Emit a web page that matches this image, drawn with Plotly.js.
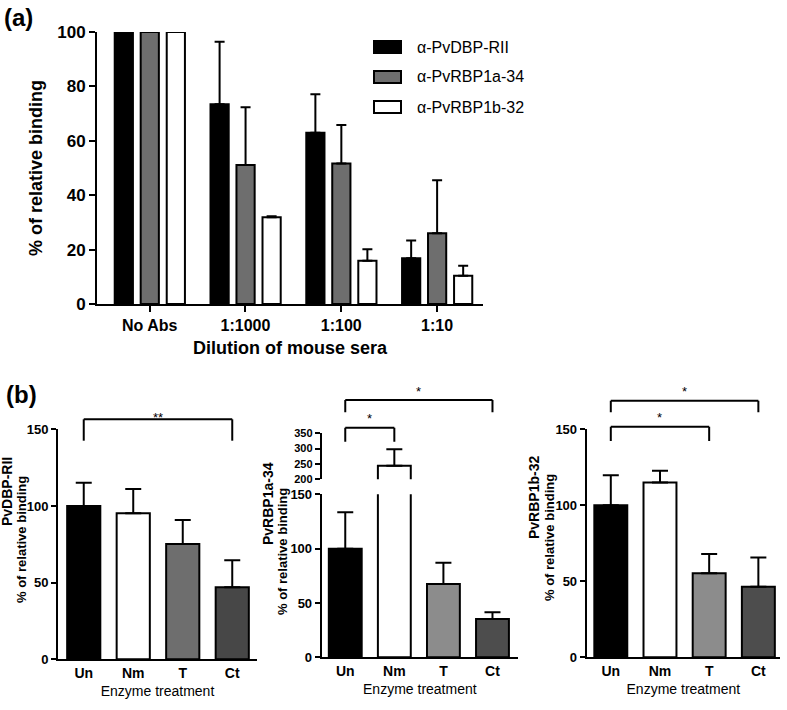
<!DOCTYPE html>
<html>
<head>
<meta charset="utf-8">
<script src="https://cdn.plot.ly/plotly-3.0.1.min.js"></script>
<style>html,body{margin:0;padding:0;background:#fff;}#chart{width:787px;height:710px;}</style>
</head>
<body>
<div id="chart"></div>
<script>
// ---------- Panel (a) data ----------
const dilutions = ['No Abs', '1:1000', '1:100', '1:10'];
const seriesNames = ['\u03b1-PvDBP-RII', '\u03b1-PvRBP1a-34', '\u03b1-PvRBP1b-32'];
const dbpValues = [100, 73.4, 63.0, 16.8];
const dbpErrors = [null, 23.0, 14.1, 6.5];
const rbp1aValues = [100, 51.1, 51.7, 26.0];
const rbp1aErrors = [null, 21.2, 14.1, 19.5];
const rbp1bValues = [100, 31.9, 15.9, 10.4];
const rbp1bErrors = [null, 0.4, 4.2, 3.7];
const yTicksA = [0, 20, 40, 60, 80, 100];

// ---------- Panel (b) data ----------
const treatments = ['Un', 'Nm', 'T', 'Ct'];
const dbpTreatValues = [100, 95.2, 75.2, 47.0];
const dbpTreatErrors = [15.2, 15.9, 15.6, 17.6];
const rbp1aTreatValues = [100, 244, 67.5, 35.2];
const rbp1aTreatErrors = [33.4, 54, 19.5, 6.2];
const rbp1bTreatValues = [100, 115, 55.3, 46.4];
const rbp1bTreatErrors = [19.7, 7.8, 12.7, 19.2];
const yTicksB = [0, 50, 100, 150];
const yTicksBUpper = [200, 250, 300, 350];
const panelBTitles = ['PvDBP-RII', 'PvRBP1a-34', 'PvRBP1b-32'];

// ---------- helpers ----------
const W = 787, H = 710;
const px = x => x / W;
const py = y => 1 - y / H;
const FA = 'Liberation Sans, Arial, sans-serif';
const FN = 'Liberation Sans Narrow, Arial Narrow, Liberation Sans, Arial, sans-serif';

const colorsA = ['#000000', '#6e6e6e', '#ffffff'];
const colorsB1 = ['#000000', '#ffffff', '#6e6e6e', '#474747'];
const colorsB23 = ['#000000', '#ffffff', '#8c8c8c', '#4d4d4d'];

function errUp(arr, width, thick) {
  return {type: 'data', symmetric: false, array: arr, arrayminus: arr.map(v => v === null ? null : 0),
          color: '#000', thickness: thick, width: width};
}

const traces = [];
// Panel (a)
const aVals = [dbpValues, rbp1aValues, rbp1bValues];
const aErrs = [dbpErrors, rbp1aErrors, rbp1bErrors];
for (let i = 0; i < 3; i++) {
  traces.push({
    type: 'bar', x: dilutions, y: aVals[i], name: seriesNames[i],
    xaxis: 'x', yaxis: 'y',
    marker: {color: colorsA[i], line: {color: '#000', width: 2}},
    error_y: errUp(aErrs[i], 5, 2),
    width: 0.19, offset: [-0.365, -0.094, 0.178][i]
  });
}
// Panel (b)-1
traces.push({
  type: 'bar', x: treatments, y: dbpTreatValues, name: panelBTitles[0],
  xaxis: 'x2', yaxis: 'y2', width: 0.67,
  marker: {color: colorsB1, line: {color: '#000', width: 2}},
  error_y: errUp(dbpTreatErrors, 8, 2)
});
// Panel (b)-2 lower and upper (broken axis)
traces.push({
  type: 'bar', x: treatments, y: rbp1aTreatValues, name: panelBTitles[1],
  xaxis: 'x3', yaxis: 'y3', width: 0.67,
  marker: {color: colorsB23, line: {color: '#000', width: 2}},
  error_y: errUp(rbp1aTreatErrors, 8, 2)
});
traces.push({
  type: 'bar', x: treatments, y: rbp1aTreatValues, name: panelBTitles[1],
  xaxis: 'x3', yaxis: 'y4', width: 0.67,
  marker: {color: colorsB23, line: {color: '#000', width: 2}},
  error_y: errUp(rbp1aTreatErrors, 8, 2)
});
// Panel (b)-3
traces.push({
  type: 'bar', x: treatments, y: rbp1bTreatValues, name: panelBTitles[2],
  xaxis: 'x4', yaxis: 'y5', width: 0.67,
  marker: {color: colorsB23, line: {color: '#000', width: 2}},
  error_y: errUp(rbp1bTreatErrors, 8, 2)
});

const baseAxis = {showgrid: false, zeroline: false, showline: true, linecolor: '#000', linewidth: 2,
                  ticks: 'outside', tickcolor: '#000', tickwidth: 2, fixedrange: true, automargin: false};

const xB = (dom, anchor, range) => Object.assign({}, baseAxis, {
  domain: dom, anchor: anchor, range: range, type: 'category', ticks: '',
  tickfont: {family: FN, size: 14, color: '#000', weight: 'bold'},
  title: {text: 'Enzyme treatment', font: {family: FN, size: 14, color: '#000'}, standoff: 6}
});
const yB = (dom, anchor, range, vals, fs) => Object.assign({}, baseAxis, {
  domain: dom, anchor: anchor, range: range, tickvals: vals, ticklen: 5,
  tickfont: {family: FN, size: fs, color: '#000', weight: 'bold'}
});

const layout = {
  width: W, height: H, margin: {l: 0, r: 0, t: 0, b: 0},
  paper_bgcolor: '#fff', plot_bgcolor: 'rgba(0,0,0,0)',
  showlegend: false, barmode: 'overlay',
  xaxis: Object.assign({}, baseAxis, {
    domain: [px(97), px(483)], anchor: 'y', type: 'category', range: [-0.55, 3.48], ticklen: 6,
    tickfont: {family: FA, size: 16, color: '#000', weight: 'bold'},
    title: {text: 'Dilution of mouse sera', font: {family: FA, size: 18, color: '#000', weight: 'bold'}, standoff: 8}
  }),
  yaxis: Object.assign({}, baseAxis, {
    domain: [py(304), py(32)], anchor: 'x', range: [0, 100], tickvals: yTicksA, ticklen: 6,
    tickfont: {family: FA, size: 17, color: '#000', weight: 'bold'},
    title: {text: '% of relative binding', font: {family: FA, size: 18, color: '#000', weight: 'bold'}, standoff: 10}
  }),
  xaxis2: xB([px(58), px(257)], 'y2', [-0.52, 3.5]),
  yaxis2: yB([py(659.3), py(429.3)], 'x2', [0, 150], yTicksB, 13),
  xaxis3: xB([px(321.7), px(518)], 'y3', [-0.48, 3.52]),
  yaxis3: yB([py(657.3), py(494.3)], 'x3', [0, 150], yTicksB, 13),
  yaxis4: yB([py(479.3), py(433.3)], 'x3', [200, 350], yTicksBUpper, 11),
  xaxis4: xB([px(586.7), px(780)], 'y5', [-0.49, 3.44]),
  yaxis5: yB([py(657.3), py(429.3)], 'x4', [0, 150], yTicksB, 13),
  shapes: [],
  annotations: []
};

// Panel labels
layout.annotations.push({text: '<b>(a)</b>', xref: 'paper', yref: 'paper', x: px(2), y: py(18), xanchor: 'left', yanchor: 'middle',
  showarrow: false, font: {family: FA, size: 24, color: '#000'}});
layout.annotations.push({text: '<b>(b)</b>', xref: 'paper', yref: 'paper', x: px(4), y: py(394), xanchor: 'left', yanchor: 'middle',
  showarrow: false, font: {family: FA, size: 24, color: '#000'}});

// Legend (panel a)
const legendRows = [47, 77, 107];
for (let i = 0; i < 3; i++) {
  const yc = legendRows[i];
  layout.shapes.push({type: 'rect', xref: 'paper', yref: 'paper', x0: px(374), x1: px(401), y0: py(yc - 6), y1: py(yc + 6),
    fillcolor: colorsA[i], line: {color: '#000', width: 2}});
  layout.annotations.push({text: seriesNames[i], xref: 'paper', yref: 'paper', x: px(415), y: py(yc), xanchor: 'left', yanchor: 'middle',
    showarrow: false, font: {family: FA, size: 16, color: '#000'}});
}

// Panel (b) y titles
const yTitlePos = [
  {x1: 7, y1: 492, x2: 21, y2: 540},
  {x1: 268, y1: 504, x2: 282, y2: 552},
  {x1: 534, y1: 498, x2: 549, y2: 538}
];
yTitlePos.forEach((p, i) => {
  layout.annotations.push({text: '<b>' + panelBTitles[i] + '</b>', xref: 'paper', yref: 'paper', x: px(p.x1), y: py(p.y1),
    xanchor: 'center', yanchor: 'middle', textangle: -90, showarrow: false, font: {family: FA, size: 14, color: '#000'}});
  layout.annotations.push({text: '<b>% of relative binding</b>', xref: 'paper', yref: 'paper', x: px(p.x2), y: py(p.y2),
    xanchor: 'center', yanchor: 'middle', textangle: -90, showarrow: false, font: {family: FA, size: 13, color: '#000'}});
});

// Significance brackets
function bracket(xref, i0, i1, yTop, yLeg, label, labelY) {
  const a = treatments[i0], b = treatments[i1];
  const ln = {color: '#000', width: 2};
  layout.shapes.push({type: 'line', xref: xref, yref: 'paper', x0: a, x1: b, y0: py(yTop), y1: py(yTop), line: ln});
  layout.shapes.push({type: 'line', xref: xref, yref: 'paper', x0: a, x1: a, y0: py(yTop), y1: py(yLeg), line: ln});
  layout.shapes.push({type: 'line', xref: xref, yref: 'paper', x0: b, x1: b, y0: py(yTop), y1: py(yLeg), line: ln});
  layout.annotations.push({text: label, xref: xref, yref: 'paper', x: (i0 + i1) / 2, y: py(labelY), xanchor: 'center', yanchor: 'middle',
    showarrow: false, font: {family: FA, size: 13, color: '#000'}});
}
bracket('x2', 0, 3, 419.3, 440.7, '**', 417);
bracket('x3', 0, 3, 400, 412.3, '*', 391);
bracket('x3', 0, 1, 427.7, 441.7, '*', 418);
bracket('x4', 0, 3, 400.7, 412.3, '*', 391);
bracket('x4', 0, 2, 426.7, 441, '*', 417);

Plotly.newPlot('chart', traces, layout, {displayModeBar: false, staticPlot: true});
</script>
</body>
</html>
